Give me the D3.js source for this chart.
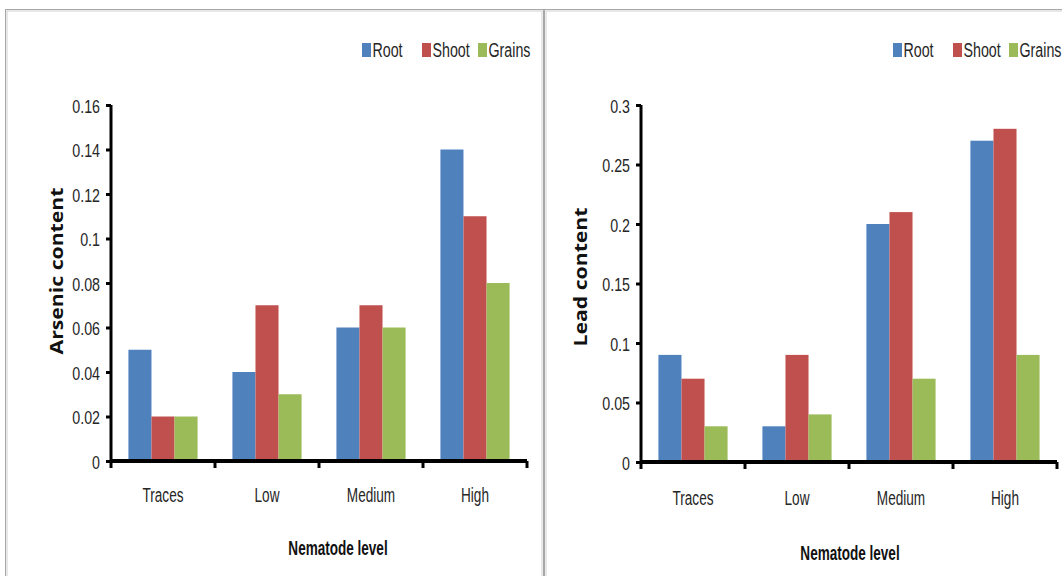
<!DOCTYPE html>
<html>
<head>
<meta charset="utf-8">
<script src="https://cdn.jsdelivr.net/npm/d3@7"></script>
<style>
  html, body { margin: 0; padding: 0; background: #fff; }
  svg { display: block; }
  .tick-label, .cat-label, .legend-label { font-family: "Liberation Sans", Arial, sans-serif; fill: #262626; }
  .axis-title { font-family: "Liberation Sans", Arial, sans-serif; font-weight: bold; fill: #111; }
  .y-title { font-family: "Open Sans", "DejaVu Sans", sans-serif; font-weight: bold; fill: #111; }
</style>
</head>
<body>
<script>
// Nematode infestation levels and plant parts
const categories = ["Traces", "Low", "Medium", "High"];
const seriesNames = ["Root", "Shoot", "Grains"];
const seriesColors = ["#4F81BD", "#C0504D", "#9BBB59"];

// Arsenic content per plant part
const arsenicRoot   = [0.05, 0.04, 0.06, 0.14];
const arsenicShoot  = [0.02, 0.07, 0.07, 0.11];
const arsenicGrains = [0.02, 0.03, 0.06, 0.08];
const arsenicTicks  = [0, 0.02, 0.04, 0.06, 0.08, 0.1, 0.12, 0.14, 0.16];

// Lead content per plant part
const leadRoot   = [0.09, 0.03, 0.20, 0.27];
const leadShoot  = [0.07, 0.09, 0.21, 0.28];
const leadGrains = [0.03, 0.04, 0.07, 0.09];
const leadTicks  = [0, 0.05, 0.1, 0.15, 0.2, 0.25, 0.3];

const W = 1062, H = 576;
const svg = d3.select("body").append("svg").attr("width", W).attr("height", H);

// narrow lettering: horizontal squeeze applied around the text anchor
function place(sel, x, y, sx) {
  sel.attr("x", 0).attr("y", 0).attr("dy", null)
     .attr("transform", `translate(${x},${y}) scale(${sx},1)`);
}

// panel frames (grey double rule)
function frame(x0, x1) {
  const g = svg.append("g");
  g.append("rect").attr("x", x0).attr("y", 9.5).attr("width", x1 - x0).attr("height", H + 20)
    .attr("fill", "none").attr("stroke", "#a8a8a8").attr("stroke-width", 1);
  g.append("rect").attr("x", x0 + 1.5).attr("y", 11).attr("width", x1 - x0 - 3).attr("height", H + 20)
    .attr("fill", "none").attr("stroke", "#d0d0d0").attr("stroke-width", 1);
}
frame(5.5, 543.5);
frame(544.5, W + 10);

const fmt = d => String(+d.toFixed(2));

function panel(opt) {
  const { left, right, top, bottom, ticks, series, yTitle, yTitleX, yTitleY, yTitleLen,
          legendX, legendY, catY, xTitleX, xTitleY } = opt;
  const g = svg.append("g");

  const x0 = d3.scaleBand().domain(categories).range([left, right]);
  const bw = x0.bandwidth();
  const groupW = bw * 0.665;
  const x1 = d3.scaleBand().domain(seriesNames).range([(bw - groupW) / 2, (bw + groupW) / 2]);
  const y = d3.scaleLinear().domain([0, d3.max(ticks)]).range([bottom, top]);

  // bars
  seriesNames.forEach((s, si) => {
    g.append("g").selectAll("rect").data(series[si]).join("rect")
      .attr("x", (d, i) => x0(categories[i]) + x1(s))
      .attr("y", d => y(d))
      .attr("width", x1.bandwidth())
      .attr("height", d => bottom - y(d))
      .attr("fill", seriesColors[si]);
  });

  // y axis
  const yAxis = g.append("g").attr("transform", `translate(${left},0)`)
    .call(d3.axisLeft(y).tickValues(ticks).tickFormat(fmt).tickSize(5).tickPadding(7));
  yAxis.select(".domain").attr("stroke", "#000").attr("stroke-width", 3)
    .attr("d", `M0,${top}V${bottom + 1.5}`);
  yAxis.selectAll(".tick line").attr("stroke", "#000").attr("stroke-width", 3);
  yAxis.selectAll(".tick text").attr("class", "tick-label").style("font-size", "19px")
    .attr("font-family", null).attr("fill", null)
    .each(function () { place(d3.select(this), -11, 7, 0.75); });

  // x axis
  const xAxis = g.append("g").attr("transform", `translate(0,${bottom})`);
  xAxis.append("line").attr("x1", left).attr("x2", right).attr("stroke", "#000").attr("stroke-width", 4);
  const edges = categories.map(c => x0(c)).concat([right]);
  xAxis.selectAll("line.edge").data(edges).join("line").attr("class", "edge")
    .attr("x1", d => d).attr("x2", d => d).attr("y1", 0).attr("y2", 7)
    .attr("stroke", "#000").attr("stroke-width", 3);
  g.selectAll("text.cat-label").data(categories).join("text").attr("class", "cat-label")
    .attr("text-anchor", "middle").style("font-size", "20px").text(d => d)
    .each(function (d) { place(d3.select(this), x0(d) + bw / 2, catY, 0.68); });

  // axis titles
  g.append("text").attr("class", "axis-title").attr("text-anchor", "middle")
    .style("font-size", "21px").text("Nematode level")
    .call(place, xTitleX, xTitleY, 0.645);
  g.append("text").attr("class", "y-title")
    .attr("transform", `translate(${yTitleX},${yTitleY}) rotate(-90)`)
    .attr("text-anchor", "middle").style("font-size", "17px")
    .attr("textLength", yTitleLen).attr("lengthAdjust", "spacingAndGlyphs")
    .text(yTitle);

  // legend
  const offs = [0, 60, 116];
  const lg = g.append("g");
  seriesNames.forEach((s, i) => {
    lg.append("rect").attr("x", legendX + offs[i]).attr("y", legendY - 14).attr("width", 9).attr("height", 14)
      .attr("fill", seriesColors[i]);
    lg.append("text").attr("class", "legend-label").style("font-size", "19.5px").text(s)
      .call(place, legendX + offs[i] + 10.5, legendY, 0.73);
  });
}

panel({
  left: 111, right: 527, top: 105, bottom: 461, ticks: arsenicTicks,
  series: [arsenicRoot, arsenicShoot, arsenicGrains],
  yTitle: "Arsenic content", yTitleX: 63, yTitleY: 271, yTitleLen: 167,
  legendX: 362, legendY: 57, catY: 502, xTitleX: 338, xTitleY: 555
});

panel({
  left: 641, right: 1057, top: 105, bottom: 462, ticks: leadTicks,
  series: [leadRoot, leadShoot, leadGrains],
  yTitle: "Lead content", yTitleX: 587, yTitleY: 277, yTitleLen: 139,
  legendX: 893, legendY: 57, catY: 505, xTitleX: 850, xTitleY: 560
});
</script>
</body>
</html>
